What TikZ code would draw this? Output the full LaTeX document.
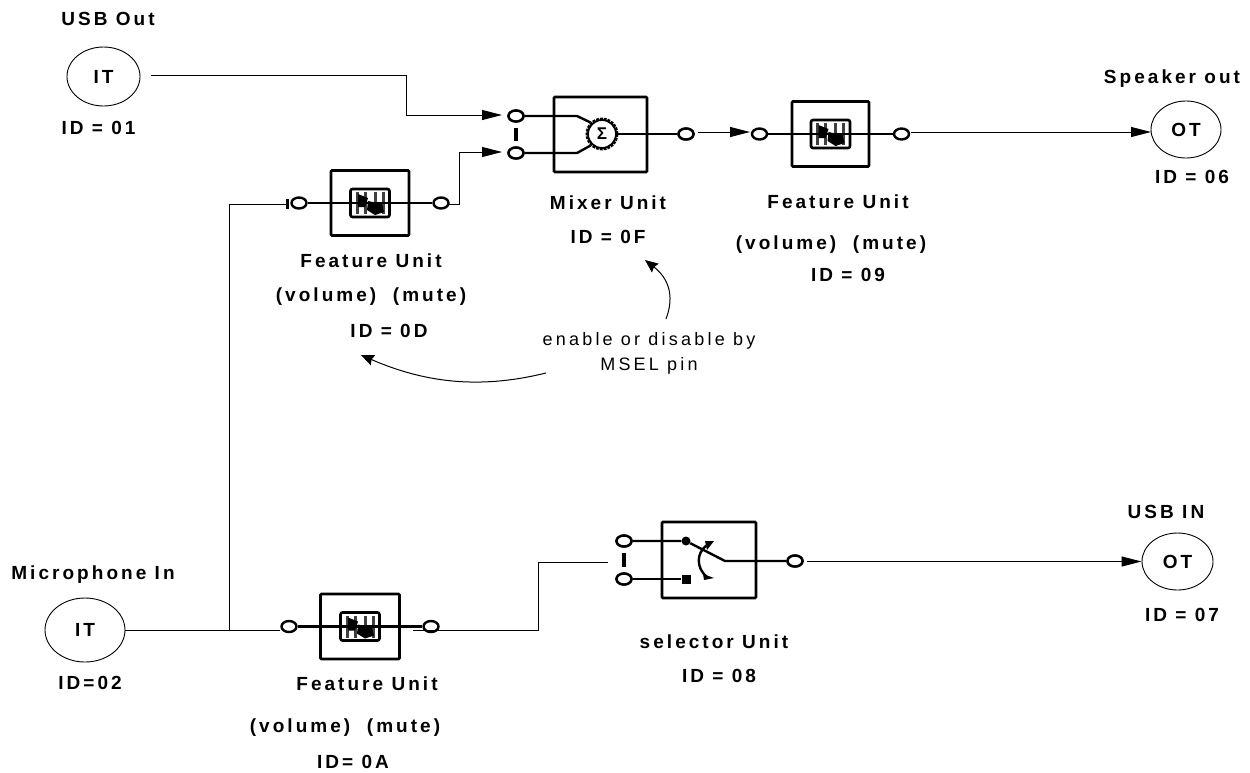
\documentclass[tikz,border=0pt]{standalone}
\usepackage{fontspec}
\setmainfont{Liberation Sans}
\usetikzlibrary{arrows.meta,shapes.geometric,calc}
\newfontfamily\boldface[LetterSpace=16]{Liberation Sans Bold}
\newfontfamily\plainface[LetterSpace=18]{Liberation Sans}
\newfontfamily\sigmaface{Liberation Sans Bold}
\newcommand{\bfl}{\boldface\fontsize{19}{22}\selectfont}
\newcommand{\rgl}{\plainface\fontsize{18}{25.5}\selectfont}
\tikzset{
 term/.style={draw,line width=0.9pt,ellipse,inner sep=0pt,font=\bfl},
 port/.style={draw,line width=2.4pt,ellipse,fill=white,minimum width=15pt,minimum height=11pt,inner sep=0pt},
 unitbox/.style={draw,line width=2.6pt,rounded corners=1pt,inner sep=0pt},
 wire/.style={line width=1pt},
 heavy/.style={line width=2.4pt},
 linkbar/.style={line width=3.5pt},
 feed/.style={line width=1pt,-{Triangle[length=20pt,width=10pt]}},
 note/.style={line width=1pt,-{Stealth[length=13pt,width=11pt,inset=1.5pt]}},
 lbl/.style={font=\bfl,inner sep=0pt},
 reglbl/.style={font=\rgl,align=center,inner sep=0pt},
}
\newcommand{\featureunit}[5]{% name, x, y, box w, box h
 \node[unitbox,minimum width=#4pt,minimum height=#5pt] (#1) at (#2,#3) {};
 \node[port] (#1L) at ($(#1)+(-71,0)$) {};
 \node[port] (#1R) at ($(#1)+(71,0)$) {};
 \draw[heavy] (#1L) -- (#1R);
 \node[draw,line width=2.6pt,rounded corners=2pt,fill=white,minimum width=39pt,minimum height=28pt,inner sep=0pt] (#1C) at (#1) {};
 \foreach \dx in {-13,-5,5,13} \draw[black!75,line width=3pt] ($(#1)+(\dx,-11)$) -- ($(#1)+(\dx,11)$);
 \draw[heavy] (#1L) -- (#1R);
 \fill ($(#1)+(-12,-9)$) -- ++(10,4) -- ++(-3,9) -- ++(-7,0) -- cycle;
 \fill ($(#1)+(-2,-2)$) -- ++(14,3) -- ++(2,8) -- ++(-9,3) -- ++(-8,-5) -- cycle;
}
\begin{document}
\begin{tikzpicture}[x=1pt,y=-1pt]
\useasboundingbox (0,0) rectangle (1250,772);
% terminals
\node[term,minimum width=73pt,minimum height=59pt] (usbout) at (103.5,76.5) {IT};
\node[term,minimum width=70pt,minimum height=57pt] (spk) at (1186,129.5) {OT};
\node[term,minimum width=80pt,minimum height=64pt] (mic) at (85,630) {IT};
\node[term,minimum width=71pt,minimum height=57pt] (usbin) at (1177.5,561.5) {OT};
% mixer
\node[unitbox,minimum width=93pt,minimum height=75pt] (mixer) at (600.5,134.5) {};
\node[port] (mixA) at (516,116) {};
\node[port] (mixB) at (516,153) {};
\node[port] (mixO) at (686,134) {};
\node[draw,line width=2.8pt,densely dotted,circle,minimum size=30pt,inner sep=0pt,fill=white] (sigma) at (602,134) {};
\draw[heavy] (mixA) -- (577,116) -- (sigma.north west);
\draw[heavy] (mixB) -- (577,153) -- (sigma.south west);
\draw[heavy] (sigma) -- (mixO);
\draw[linkbar,shorten >=5pt,shorten <=5pt] (mixA) -- (mixB);
\node[port] at (mixA) {};
\node[port] at (mixB) {};
\node[port] at (mixO) {};
\node[draw,line width=1.8pt,circle,minimum size=28pt,inner sep=0pt,font={\sigmaface\fontsize{17}{17}\selectfont}] (sigmaB) at (602,134) {Σ};
% features
\featureunit{fD}{370}{203}{78}{65}
\featureunit{fN}{830.5}{134}{77}{65}
\featureunit{fA}{360}{626.5}{79}{65}
% selector
\node[unitbox,minimum width=94pt,minimum height=76pt] (sel) at (709,560) {};
\node[port] (selA) at (624,541) {};
\node[port] (selB) at (624,579) {};
\node[port] (selO) at (795,561) {};
\coordinate (pole) at (725,561);
\node[fill,circle,minimum size=9pt,inner sep=0pt] (dotA) at (686,541) {};
\node[fill,minimum size=9pt,inner sep=0pt] (dotB) at (686,579) {};
\draw[heavy] (selA) -- (dotA) -- (pole) -- (selO);
\draw[heavy] (selB) -- (dotB);
\draw[linkbar,shorten >=5pt,shorten <=5pt] (selA) -- (selB);
\node[port] at (selA) {};
\node[port] at (selB) {};
\node[port] at (selO) {};
\coordinate (arcT) at (707,545);
\coordinate (arcB) at (707,577);
\draw[heavy] (arcT) .. controls (696,553) and (696,568) .. (arcB);
\fill (705,541) -- (714,541) -- (707,550) -- cycle;
\fill (703,574) -- (714,578) -- (704,580) -- cycle;
% connectors
\coordinate (s1) at (151,75);
\coordinate (e1) at (502,115);
\draw[feed] (s1) -- (406,75) -- (406,115) -- (e1);
\coordinate (s2) at (449,204);
\coordinate (e2) at (502,152);
\draw[feed] (s2) -- (459,204) -- (459,152) -- (e2);
\coordinate (s3) at (698,132);
\coordinate (e3) at (750,132);
\draw[feed] (s3) -- (e3);
\coordinate (s4) at (911,132);
\coordinate (e4) at (1151,132);
\draw[feed] (s4) -- (e4);
\coordinate (s5) at (807,561.5);
\draw[feed] (s5) -- (usbin.west);
\coordinate (junc) at (229,630);
\coordinate (eA) at (280,630);
\draw[wire] (mic.east) -- (junc) -- (eA);
\coordinate (eD) at (287,204);
\draw[wire] (junc) -- (229,204) -- (eD);
\fill (285.5,199) rectangle (289,209);
\coordinate (s6) at (413,630);
\coordinate (e6) at (608,562);
\draw[wire] (s6) -- (538,630) -- (538,562) -- (e6);
% notes
\node[reglbl] (note) at (649,353.5) {enable or disable by\\MSEL pin};
\coordinate (n1s) at (666,319);
\coordinate (n1e) at (645,260);
\draw[note] (n1s) .. controls (675,295) and (668,278) .. (n1e);
\coordinate (n2s) at (546,373);
\coordinate (n2e) at (361,355);
\draw[note] (n2s) .. controls (485,388) and (430,385) .. (n2e);
% labels
\node[lbl] (t1) at (108,19) {USB Out};
\node[lbl] (t2) at (98.5,128) {ID = 01};
\node[lbl] (t3) at (1172,79) {Speaker out};
\node[lbl] (t4) at (1192,177) {ID = 06};
\node[lbl] (t5) at (608,203) {Mixer Unit};
\node[lbl] (t6) at (608,237) {ID = 0F};
\node[lbl] (t7) at (838,202) {Feature Unit};
\node[lbl] (t8) at (831,245) {(volume)\ \ (mute)};
\node[lbl] (t9) at (848,275) {ID = 09};
\node[lbl] (t10) at (371,261) {Feature Unit};
\node[lbl] (t11) at (371,297) {(volume)\ \ (mute)};
\node[lbl] (t12) at (389,331) {ID = 0D};
\node[lbl] (t13) at (93,575) {Microphone In};
\node[lbl] (t14) at (90,683) {ID=02};
\node[lbl] (t15) at (367,684) {Feature Unit};
\node[lbl] (t16) at (345,728) {(volume)\ \ (mute)};
\node[lbl] (t17) at (353,762) {ID= 0A};
\node[lbl] (t18) at (714,642) {selector Unit};
\node[lbl] (t19) at (719,676) {ID = 08};
\node[lbl] (t20) at (1166,512) {USB IN};
\node[lbl] (t21) at (1182,615) {ID = 07};
\end{tikzpicture}
\end{document}
